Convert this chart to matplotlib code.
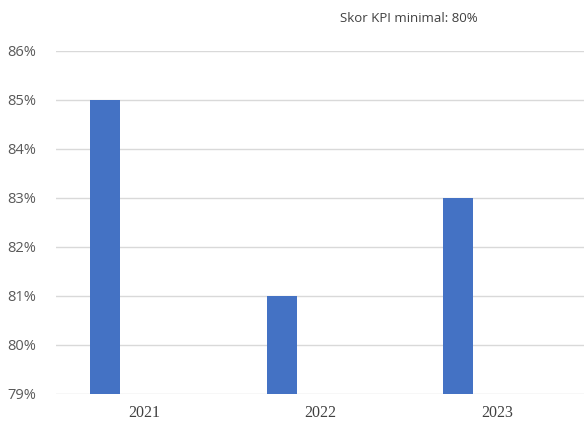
import numpy as np
import matplotlib.pyplot as plt
from matplotlib.ticker import FuncFormatter

years = ['2021', '2022', '2023']
scores = [85, 81, 83]
y_ticks = [79, 80, 81, 82, 83, 84, 85, 86]

fig = plt.figure(figsize=(5.84, 4.21), dpi=100)
ax = fig.add_axes([56/584, 27/421, 529/584, 343/421])

x = np.arange(len(years))
ax.bar(x - 0.22, scores, width=0.17, color='#4472C4', zorder=3)

ax.set_xlim(-0.5, 2.5)
ax.set_ylim(79, 86)
ax.set_yticks(y_ticks)
ax.yaxis.set_major_formatter(FuncFormatter(lambda v, p: f'{v:.0f}%'))
ax.set_xticks(x)
ax.set_xticklabels(years, family='Liberation Serif', fontsize=11.5, color='#404040')
ax.tick_params(axis='y', labelsize=10.5, labelcolor='#595959', length=0, pad=14)
ax.tick_params(axis='x', length=0, pad=8)
for lab in ax.get_yticklabels():
    lab.set_family('Open Sans')

ax.grid(axis='y', color='#D9D9D9', linewidth=1, zorder=0)
for s in ax.spines.values():
    s.set_visible(False)

fig.text(409/584, 1 - 18/421, 'Skor KPI minimal: 80%', ha='center', va='center',
         fontsize=9.5, color='#404040', family='Open Sans')

fig.savefig('out.png', dpi=100)
